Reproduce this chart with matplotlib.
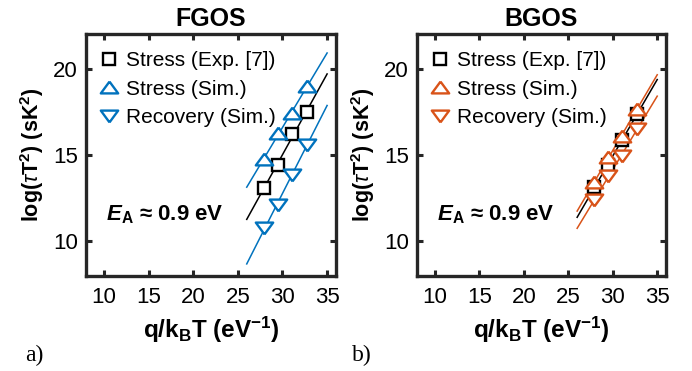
import numpy as np
import matplotlib
matplotlib.use('Agg')
import matplotlib.pyplot as plt

# q/kBT positions of the four temperatures
q_kT = [27.95, 29.47, 31.05, 32.75]

# log(tau T^2)
fgos_exp = [13.1, 14.41, 16.23, 17.48]
fgos_stress = [14.78, 16.25, 17.41, 18.99]
fgos_recovery = [10.78, 12.09, 13.87, 15.61]

bgos_exp = [13.15, 14.45, 15.85, 17.4]
bgos_stress = [13.42, 14.9, 16.13, 17.68]
bgos_recovery = [12.38, 13.81, 14.97, 16.52]

fit_x = [26, 35]

BLUE = '#0072BD'
ORANGE = '#D95319'
AX_COLOR = '#262626'

plt.rcParams['font.family'] = 'Liberation Sans'
plt.rcParams['mathtext.fontset'] = 'custom'
plt.rcParams['mathtext.rm'] = 'Liberation Sans'
plt.rcParams['mathtext.it'] = 'Liberation Sans:italic'
plt.rcParams['mathtext.bf'] = 'Liberation Sans:bold'
plt.rcParams['mathtext.bfit'] = 'Liberation Sans:bold:italic'

# MATLAB-like triangles: wider than tall
TRI_UP = [(0, 0.68), (-1, -0.68), (1, -0.68), (0, 0.68)]
TRI_DOWN = [(0, -0.68), (-1, 0.68), (1, 0.68), (0, -0.68)]


def fit_line(ax, x, y, color):
    k, b = np.polyfit(x, y, 1)
    xs = np.array(fit_x)
    ax.plot(xs, k * xs + b, '-', color=color, lw=1.1, zorder=2)


def panel(ax, title, color, exp, stress, recovery):
    fit_line(ax, q_kT, exp, 'black')
    fit_line(ax, q_kT, stress, color)
    fit_line(ax, q_kT, recovery, color)

    ax.plot(q_kT, exp, 's', ms=8, mec='black', mfc='white', mew=1.7,
            ls='none', zorder=3, label='Stress (Exp. [7])')
    ax.plot(q_kT, stress, marker=TRI_UP, ms=12.5, mec=color, mfc='white',
            mew=1.7, ls='none', zorder=4, label='Stress (Sim.)')
    ax.plot(q_kT, recovery, marker=TRI_DOWN, ms=12.5, mec=color, mfc='white',
            mew=1.7, ls='none', zorder=5, label='Recovery (Sim.)')

    ax.set_xlim(8, 36)
    ax.set_ylim(8, 22)
    ax.set_xticks([10, 15, 20, 25, 30, 35])
    ax.set_yticks([10, 15, 20])
    ax.tick_params(direction='in', top=True, right=True, length=4,
                   width=2.2, color=AX_COLOR, labelsize=16)
    ax.tick_params(axis='x', pad=8)
    ax.tick_params(axis='y', pad=6)
    for s in ax.spines.values():
        s.set_linewidth(2.4)
        s.set_color(AX_COLOR)

    ax.set_title(title, fontsize=18, fontweight='bold', pad=6)
    ax.set_xlabel(r'q/k$_\mathbf{B}$T (eV$^\mathbf{-1}$)', fontsize=17.5,
                  fontweight='bold', labelpad=5)
    ax.set_ylabel(r'log($\tau$T$^\mathbf{2}$) (sK$^\mathbf{2}$)', fontsize=15.5,
                  fontweight='bold', labelpad=5)

    ax.legend(loc='upper left', bbox_to_anchor=(-0.01, 0.99), frameon=False,
              fontsize=15, handlelength=1.0, handletextpad=0.35,
              labelspacing=0.45, borderaxespad=0.3)

    ax.text(0.08, 0.255, r'$\mathbfit{E}_\mathbf{A}$ ≈ 0.9 eV',
            transform=ax.transAxes, fontsize=16, fontweight='bold',
            va='center', ha='left')


fig = plt.figure(figsize=(6.92, 3.71), dpi=100)
ax1 = fig.add_axes([0.1243, 0.256, 0.3613, 0.652])
ax2 = fig.add_axes([0.6026, 0.256, 0.3600, 0.652])

panel(ax1, 'FGOS', BLUE, fgos_exp, fgos_stress, fgos_recovery)
panel(ax2, 'BGOS', ORANGE, bgos_exp, bgos_stress, bgos_recovery)

fig.text(0.036, 0.028, 'a)', family='Liberation Serif', fontsize=17)
fig.text(0.509, 0.028, 'b)', family='Liberation Serif', fontsize=17)

fig.savefig('out.png', dpi=100)
